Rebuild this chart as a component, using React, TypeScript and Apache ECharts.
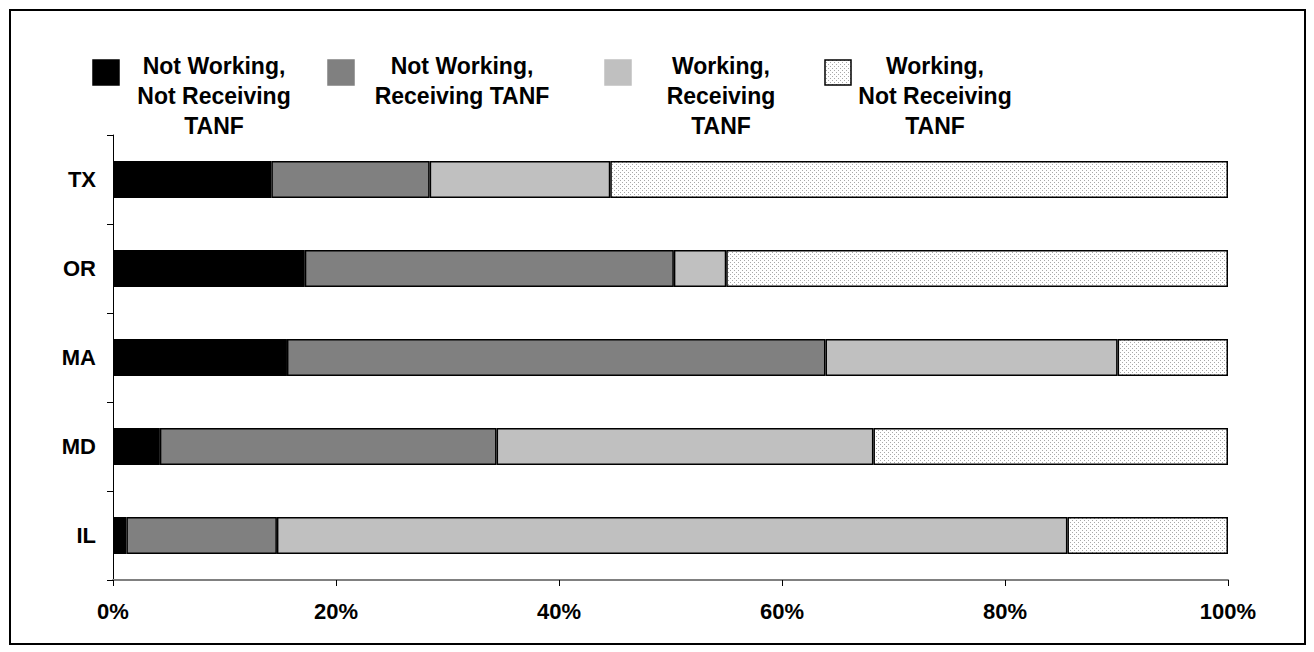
import React, { useEffect, useRef } from "react";
import * as echarts from "echarts";

const categories = ["IL", "MD", "MA", "OR", "TX"];
const seriesNames = [
  "Not Working,\nNot Receiving\nTANF",
  "Not Working,\nReceiving TANF",
  "Working,\nReceiving\nTANF",
  "Working,\nNot Receiving\nTANF",
];
const notWorkingNotReceiving = [1.2, 4.2, 15.6, 17.2, 14.2];
const notWorkingReceiving = [13.5, 30.2, 48.3, 33.1, 14.2];
const workingReceiving = [70.9, 33.8, 26.2, 4.7, 16.2];
const workingNotReceiving = [14.4, 31.8, 9.9, 45.0, 55.4];
const xTicks = [0, 20, 40, 60, 80, 100];

const FONT = "'Liberation Sans', Arial, sans-serif";

function makeDotPattern() {
  const c = document.createElement("canvas");
  c.width = 4;
  c.height = 4;
  const ctx = c.getContext("2d")!;
  ctx.fillStyle = "#ffffff";
  ctx.fillRect(0, 0, 4, 4);
  ctx.fillStyle = "#a8a8a8";
  ctx.fillRect(0, 0, 1, 1);
  ctx.fillRect(2, 2, 1, 1);
  return { image: c, repeat: "repeat", imageWidth: 4, imageHeight: 4 } as any;
}

export default function App() {
  const ref = useRef<HTMLDivElement>(null);
  useEffect(() => {
    if (!ref.current) return;
    const chart = echarts.init(ref.current, undefined, { renderer: "svg" });
    const dots = makeDotPattern();
    const colors: any[] = ["#000000", "#808080", "#c0c0c0", dots];
    const data = [notWorkingNotReceiving, notWorkingReceiving, workingReceiving, workingNotReceiving];

    const legendItems = [
      { sx: 93, cx: 214, fill: "#000000", stroke: "#000000" },
      { sx: 328, cx: 462, fill: "#808080", stroke: "#808080" },
      { sx: 605, cx: 721, fill: "#c0c0c0", stroke: "#c0c0c0" },
      { sx: 825, cx: 935, fill: dots, stroke: "#000000" },
    ];
    const graphics: any[] = [
      {
        type: "rect",
        shape: { x: 10, y: 10, width: 1295, height: 634 },
        style: { fill: "none", stroke: "#000", lineWidth: 2 },
        silent: true,
      },
    ];
    legendItems.forEach((it, i) => {
      graphics.push({
        type: "rect",
        shape: { x: it.sx, y: 60, width: 26, height: 25 },
        style: { fill: it.fill, stroke: it.stroke, lineWidth: 1.5 },
      });
      graphics.push({
        type: "text",
        x: it.cx,
        y: 51,
        style: {
          text: seriesNames[i],
          fontFamily: FONT,
          fontWeight: "bold",
          fontSize: 23,
          lineHeight: 30,
          fill: "#000",
          align: "center",
          verticalAlign: "top",
        },
      });
    });

    chart.setOption({
      animation: false,
      backgroundColor: "#ffffff",
      grid: { left: 113, right: 86, top: 135, bottom: 72 },
      xAxis: {
        type: "value",
        min: xTicks[0],
        max: xTicks[xTicks.length - 1],
        interval: 20,
        axisLine: { show: true, lineStyle: { color: "#808080", width: 2 } },
        axisTick: { show: true, length: 6, lineStyle: { color: "#000", width: 1 } },
        splitLine: { show: false },
        axisLabel: {
          formatter: "{value}%",
          fontFamily: FONT,
          fontWeight: "bold",
          fontSize: 22,
          color: "#000",
          margin: 20,
        },
      },
      yAxis: {
        type: "category",
        data: categories,
        axisLine: { show: true, lineStyle: { color: "#000", width: 1 } },
        axisTick: { show: true, length: 6, lineStyle: { color: "#000", width: 1 } },
        axisLabel: {
          fontFamily: FONT,
          fontWeight: "bold",
          fontSize: 22,
          color: "#000",
          margin: 17,
        },
      },
      graphic: graphics,
      series: data.map((d, i) => ({
        name: seriesNames[i],
        type: "bar",
        stack: "total",
        barWidth: 37,
        data: d,
        itemStyle: { color: colors[i], borderColor: "#000", borderWidth: 1.5 },
        emphasis: { disabled: true },
      })),
    });
    return () => chart.dispose();
  }, []);
  return (
    <div
      ref={ref}
      style={{ position: "fixed", left: 0, top: 0, width: 1314, height: 652, background: "#fff" }}
    />
  );
}
